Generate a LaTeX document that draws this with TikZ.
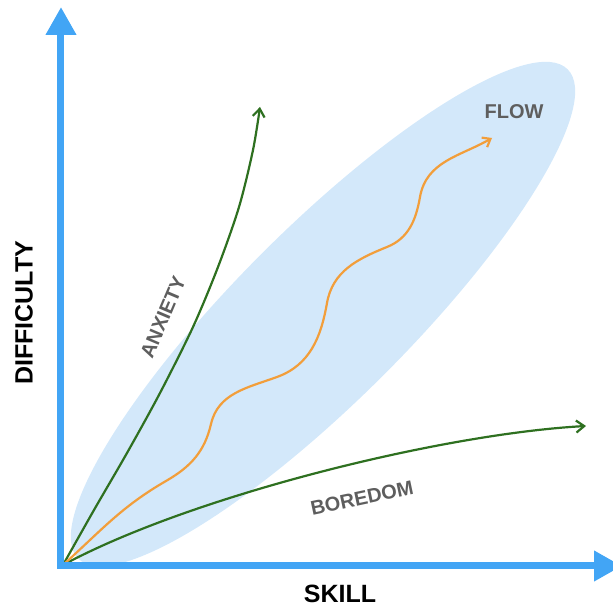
\documentclass[tikz,border=0pt]{standalone}
\usepackage{fontspec}
\setmainfont{Liberation Sans}
\usepackage{tikz}
\usetikzlibrary{arrows.meta}

\definecolor{axisblue}{RGB}{66,165,245}
\definecolor{flowfill}{RGB}{211,232,250}
\definecolor{trendgreen}{RGB}{46,112,32}
\definecolor{floworange}{RGB}{242,158,58}
\definecolor{labelgray}{RGB}{94,94,94}

\tikzset{
  axis/.style={axisblue, line width=7pt, line cap=rect, -{Triangle[length=28pt,width=29pt]}},
  trend/.style={trendgreen, line width=2.2pt, -{Straight Barb[length=8pt,width=12pt]}},
  wave/.style={floworange, line width=2.2pt, -{Straight Barb[length=7pt,width=11pt]}},
  axislabel/.style={font=\fontsize{25}{30}\selectfont\bfseries},
  zonelabel/.style={labelgray, font=\fontsize{20}{24}\selectfont\bfseries}
}

\begin{document}
\begin{tikzpicture}[x=1pt, y=1pt]
              \useasboundingbox (-61,-43) rectangle (552,566);
              \clip (-61,-43) rectangle (552,566);
              \coordinate (O) at (0,0);
              \coordinate (start) at (2,1);
              \coordinate (ytip) at (0,559);
              \coordinate (xtip) at (561,0);
              \coordinate (anxtip) at (199,459);
              \coordinate (boretip) at (525,140);
              \coordinate (flowtip) at (431,428);
              % flat and steep stretches of the wave
              \coordinate (f1) at (105,85);
              \coordinate (s1) at (150,142);
              \coordinate (f2) at (216,189);
              \coordinate (s2) at (266,263);
              \coordinate (f3) at (326,319);
              \coordinate (s3) at (359,369);
              % flow channel
              \fill[flowfill, rotate around={45:(262,252)}] (262,252) ellipse [x radius=346, y radius=86];
              % the three paths
              \draw[trend] plot [mark=none, smooth] coordinates {(start) (33,56) (66,113) (99,173) (132,239) (157,299) (178,359) (192,416) (anxtip)};
              \draw[trend] (start) .. controls (130,70) and (380,132) .. (boretip);
              \draw[wave] (start) to[out=42,in=210] (f1) to[out=30,in=257] (s1) to[out=77,in=200] (f2)
                to[out=20,in=260] (s2) to[out=80,in=202] (f3) to[out=22,in=260] (s3) to[out=80,in=210] (flowtip);
              \draw[axis] (O) -- (ytip);
              \draw[axis] (O) -- (xtip);
              \node[axislabel, rotate=90] (difficulty) at (-37,253) {DIFFICULTY};
              \node[axislabel] (skill) at (279,-28) {SKILL};
              \node[zonelabel, rotate=67] (anxiety) at (102,249) {ANXIETY};
              \node[zonelabel, rotate=12] (boredom) at (301,68) {BOREDOM};
              \node[zonelabel] (flow) at (453,454) {FLOW};
            \end{tikzpicture}
\end{document}
